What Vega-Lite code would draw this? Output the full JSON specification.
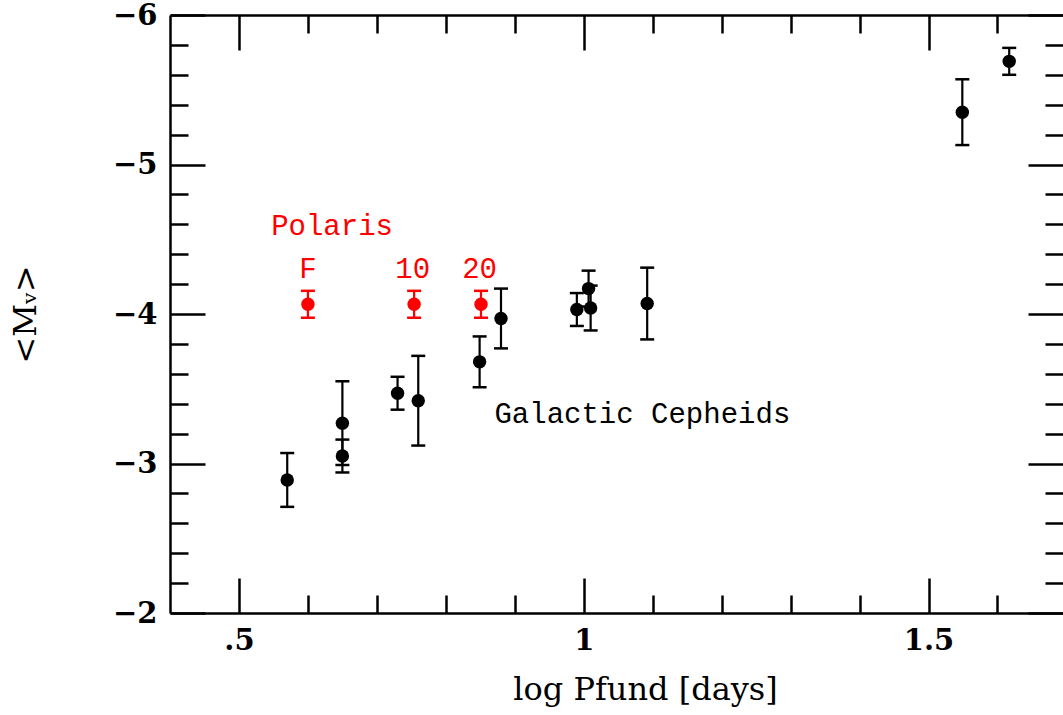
{
  "$schema": "https://vega.github.io/schema/vega-lite/v6.json",
  "autosize": {"type": "none"},
  "padding": {"left": 170, "top": 15, "right": 0, "bottom": 102},
  "width": 893,
  "height": 598,
  "background": "white",
  "config": {
    "view": {"stroke": null},
    "axis": {
      "domain": false,
      "domainColor": "black",
      "domainWidth": 2.5,
      "grid": false,
      "tickColor": "black",
      "tickWidth": 2.5,
      "labelColor": "black",
      "labelFont": "DejaVu Serif",
      "labelFontSize": 29,
      "labelFontWeight": "bold",
      "titleColor": "black",
      "titleFont": "DejaVu Serif",
      "titleFontSize": 32,
      "titleFontWeight": "normal"
    }
  },
  "datasets": {
    "stars": [
      {"group": "Galactic", "logP": 0.570, "M": -2.89, "lo": -2.71, "hi": -3.07},
      {"group": "Galactic", "logP": 0.650, "M": -3.27, "lo": -2.99, "hi": -3.55},
      {"group": "Galactic", "logP": 0.650, "M": -3.05, "lo": -2.94, "hi": -3.16},
      {"group": "Galactic", "logP": 0.730, "M": -3.47, "lo": -3.36, "hi": -3.58},
      {"group": "Galactic", "logP": 0.760, "M": -3.42, "lo": -3.12, "hi": -3.72},
      {"group": "Galactic", "logP": 0.849, "M": -3.68, "lo": -3.51, "hi": -3.85},
      {"group": "Galactic", "logP": 0.880, "M": -3.97, "lo": -3.77, "hi": -4.17},
      {"group": "Galactic", "logP": 0.990, "M": -4.03, "lo": -3.92, "hi": -4.14},
      {"group": "Galactic", "logP": 1.007, "M": -4.17, "lo": -4.05, "hi": -4.29},
      {"group": "Galactic", "logP": 1.010, "M": -4.04, "lo": -3.89, "hi": -4.19},
      {"group": "Galactic", "logP": 1.092, "M": -4.07, "lo": -3.83, "hi": -4.31},
      {"group": "Galactic", "logP": 1.549, "M": -5.35, "lo": -5.13, "hi": -5.57},
      {"group": "Galactic", "logP": 1.617, "M": -5.69, "lo": -5.60, "hi": -5.78},
      {"group": "Polaris", "logP": 0.600, "M": -4.065, "lo": -3.975, "hi": -4.155},
      {"group": "Polaris", "logP": 0.754, "M": -4.065, "lo": -3.975, "hi": -4.155},
      {"group": "Polaris", "logP": 0.851, "M": -4.065, "lo": -3.975, "hi": -4.155}
    ],
    "labels": [
      {"group": "Polaris", "logP": 0.635, "M": -4.53, "text": "Polaris"},
      {"group": "Polaris", "logP": 0.600, "M": -4.241, "text": "F"},
      {"group": "Polaris", "logP": 0.752, "M": -4.241, "text": "10"},
      {"group": "Polaris", "logP": 0.849, "M": -4.241, "text": "20"},
      {"group": "Galactic", "logP": 1.085, "M": -3.271, "text": "Galactic Cepheids"}
    ]
  },
  "resolve": {"scale": {"x": "shared", "y": "shared", "color": "shared"}, "axis": {"x": "independent", "y": "independent"}},
  "layer": [
    {
      "data": {"name": "stars"},
      "mark": {"type": "rule", "strokeWidth": 2.2},
      "encoding": {
        "x": {"field": "logP", "type": "quantitative",
          "scale": {"domain": [0.4, 1.695], "nice": false, "zero": false},
          "axis": {"orient": "bottom", "domain": true, "values": [0.5, 1, 1.5], "tickSize": -35, "labelPadding": 48,
            "labelExpr": "replace(format(datum.value, '~g'), '0.', '.')",
            "title": "log Pfund [days]", "titleX": 475, "titleY": 86, "titleBaseline": "alphabetic", "titleAnchor": null}},
        "y": {"field": "lo", "type": "quantitative",
          "scale": {"domain": [-6, -2], "reverse": true, "nice": false, "zero": false},
          "axis": {"orient": "left", "domain": true, "values": [-6, -5, -4, -3, -2], "tickSize": -35, "labelPadding": 48, "format": "d",
            "title": "<Mᵥ>", "titleX": -145, "titleY": 299, "titleAngle": 270, "titleBaseline": "middle"}},
        "y2": {"field": "hi"},
        "color": {"field": "group", "type": "nominal", "scale": {"domain": ["Galactic", "Polaris"], "range": ["#000000", "#ff0000"]}, "legend": null}
      }
    },
    {
      "data": {"name": "stars"},
      "mark": {"type": "tick", "orient": "horizontal", "size": 14, "thickness": 2.5, "opacity": 1},
      "encoding": {
        "x": {"field": "logP", "type": "quantitative",
          "axis": {"orient": "bottom", "values": [0.6, 0.7, 0.8, 0.9, 1.1, 1.2, 1.3, 1.4, 1.6], "tickSize": -18, "labels": false, "title": null}},
        "y": {"field": "lo", "type": "quantitative",
          "axis": {"orient": "left", "values": [-5.8, -5.6, -5.4, -5.2, -4.8, -4.6, -4.4, -4.2, -3.8, -3.6, -3.4, -3.2, -2.8, -2.6, -2.4, -2.2], "tickSize": -18, "labels": false, "title": null}},
        "color": {"field": "group", "type": "nominal", "legend": null}
      }
    },
    {
      "data": {"name": "stars"},
      "mark": {"type": "tick", "orient": "horizontal", "size": 14, "thickness": 2.5, "opacity": 1},
      "encoding": {
        "x": {"field": "logP", "type": "quantitative",
          "axis": {"orient": "top", "domain": true, "values": [0.5, 1, 1.5], "tickSize": -35, "labels": false, "title": null}},
        "y": {"field": "hi", "type": "quantitative",
          "axis": {"orient": "right", "values": [-6, -5, -4, -3, -2], "tickSize": -35, "labels": false, "title": null}},
        "color": {"field": "group", "type": "nominal", "legend": null}
      }
    },
    {
      "data": {"name": "stars"},
      "mark": {"type": "circle", "size": 180, "opacity": 1},
      "encoding": {
        "x": {"field": "logP", "type": "quantitative",
          "axis": {"orient": "top", "values": [0.6, 0.7, 0.8, 0.9, 1.1, 1.2, 1.3, 1.4, 1.6], "tickSize": -18, "labels": false, "title": null}},
        "y": {"field": "M", "type": "quantitative",
          "axis": {"orient": "right", "values": [-5.8, -5.6, -5.4, -5.2, -4.8, -4.6, -4.4, -4.2, -3.8, -3.6, -3.4, -3.2, -2.8, -2.6, -2.4, -2.2], "tickSize": -18, "labels": false, "title": null}},
        "color": {"field": "group", "type": "nominal", "legend": null}
      }
    },
    {
      "data": {"name": "labels"},
      "mark": {"type": "text", "font": "Liberation Mono", "fontSize": 29, "baseline": "alphabetic", "align": "center"},
      "encoding": {
        "x": {"field": "logP", "type": "quantitative", "axis": null},
        "y": {"field": "M", "type": "quantitative", "axis": null},
        "text": {"field": "text"},
        "color": {"field": "group", "type": "nominal", "legend": null}
      }
    }
  ]
}
